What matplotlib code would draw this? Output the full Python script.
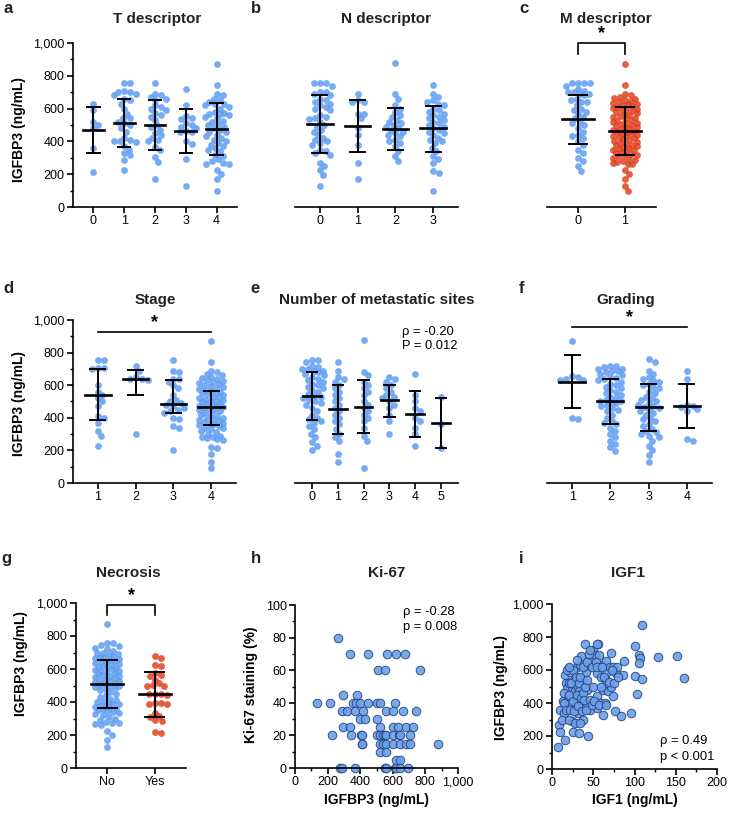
import numpy as np
import matplotlib
matplotlib.use("Agg")
import matplotlib.pyplot as plt
from matplotlib.ticker import MultipleLocator, FuncFormatter

plt.rcParams['font.family'] = ['Liberation Sans', 'DejaVu Sans']

W, H = 729, 813
BLUE = '#5f9ef3'
RED = '#e0421f'

# ---- data (IGFBP3, ng/mL) ----
t_labels = ['0', '1', '2', '3', '4']
t0 = [628, 590, 520, 480, 500, 357, 214]
t1 = [757, 757, 705, 700, 700, 690, 680, 660, 650, 630, 600, 570, 545, 540, 520, 510, 500, 480, 460,
      420, 410, 400, 400, 395, 370, 350, 330, 315, 285, 225]
t2 = [757, 690, 680, 673, 660, 653, 620, 612, 600, 592, 571, 560, 551, 531, 500, 490, 470, 449, 439,
      420, 408, 400, 367, 347, 306, 276, 170]
t3 = [720, 620, 555, 540, 535, 510, 500, 490, 480, 465, 460, 455, 400, 385, 290, 130]
t4 = [870, 745, 690, 680, 660, 650, 640, 630, 625, 620, 610, 600, 580, 575, 570, 570, 560, 550, 540,
      525, 520, 505, 500, 490, 480, 470, 460, 455, 440, 430, 420, 410, 400, 390, 380, 370, 360, 350,
      340, 320, 310, 290, 280, 270, 265, 260, 225, 200, 170, 95]
t_med = [470, 510, 502, 463, 478]
t_lo = [328, 365, 350, 328, 320]
t_hi = [610, 660, 655, 600, 632]

n_labels = ['0', '1', '2', '3']
n0 = [755, 755, 755, 740, 700, 700, 690, 680, 660, 650, 640, 630, 620, 610, 600, 590, 560, 550, 540,
      535, 520, 500, 490, 470, 460, 440, 420, 410, 400, 390, 380, 350, 340, 330, 320, 270, 250, 225,
      195, 130]
n1 = [690, 650, 640, 640, 570, 570, 540, 480, 440, 380, 270, 170]
n2 = [875, 690, 660, 620, 600, 580, 560, 550, 530, 520, 510, 500, 490, 480, 470, 460, 450, 440, 430,
      410, 400, 390, 370, 340, 310, 280]
n3 = [745, 690, 670, 650, 640, 630, 620, 600, 590, 580, 570, 560, 550, 540, 530, 520, 510, 500, 490,
      480, 470, 460, 450, 440, 420, 410, 400, 390, 360, 340, 310, 290, 270, 220, 210, 100]
n_med = [506, 494, 475, 480]
n_lo = [330, 335, 347, 335]
n_hi = [680, 655, 604, 618]

m_labels = ['0', '1']
m0 = [755, 755, 755, 755, 740, 720, 710, 700, 700, 690, 690, 680, 660, 650, 640, 640, 620, 600, 590,
      580, 570, 550, 540, 520, 510, 500, 480, 460, 440, 430, 420, 400, 380, 350, 330, 300, 280, 250,
      220]
m1 = [870, 745, 690, 680, 670, 665, 660, 650, 645, 640, 635, 630, 625, 620, 615, 610, 605, 600, 595,
      590, 585, 580, 575, 570, 560, 555, 550, 545, 540, 530, 525, 520, 515, 510, 505, 500, 495, 490,
      485, 480, 475, 470, 465, 460, 455, 450, 445, 440, 435, 430, 425, 420, 415, 410, 400, 395, 390,
      385, 380, 375, 370, 365, 360, 355, 350, 345, 340, 335, 330, 325, 320, 315, 310, 300, 290, 285,
      280, 275, 270, 265, 260, 225, 200, 170, 130, 100]
m_med = [537, 465]
m_lo = [384, 320]
m_hi = [684, 612]

s_labels = ['1', '2', '3', '4']
s1 = [757, 757, 705, 705, 700, 600, 560, 540, 520, 500, 470, 410, 400, 370, 320, 290, 225]
s2 = [720, 690, 650, 640, 640, 630, 300]
s3 = [757, 690, 680, 640, 640, 620, 600, 580, 540, 510, 500, 490, 480, 470, 460, 450, 440, 430, 400,
      390, 350, 340, 200]
s4 = [870, 745, 690, 680, 670, 660, 650, 645, 640, 630, 625, 620, 615, 610, 600, 595, 590, 580, 575,
      570, 565, 560, 555, 550, 545, 540, 530, 525, 520, 515, 510, 505, 500, 495, 490, 485, 480, 475,
      470, 465, 460, 455, 450, 445, 440, 430, 420, 415, 410, 400, 395, 390, 385, 380, 375, 370, 365,
      360, 355, 350, 340, 335, 330, 320, 310, 300, 290, 285, 280, 275, 270, 265, 220, 215, 175, 130, 95]
s_med = [537, 640, 484, 469]
s_lo = [384, 541, 428, 353]
s_hi = [700, 694, 633, 567]

ms_labels = ['0', '1', '2', '3', '4', '5']
ms0 = [755, 755, 740, 720, 710, 700, 700, 690, 685, 680, 670, 660, 650, 640, 630, 620, 610, 600, 590,
       580, 570, 560, 545, 535, 530, 520, 510, 500, 490, 480, 460, 440, 420, 400, 390, 380, 370, 350,
       330, 300, 280, 250, 230, 200]
ms1 = [745, 690, 650, 640, 620, 600, 580, 560, 540, 520, 500, 480, 460, 440, 420, 400, 380, 360, 330,
       300, 280, 260, 175, 130]
ms2 = [875, 680, 660, 620, 600, 580, 560, 540, 500, 480, 460, 440, 420, 400, 380, 340, 290, 260, 95]
ms3 = [650, 640, 620, 600, 580, 560, 540, 530, 520, 500, 480, 460, 420, 380, 300]
ms4 = [670, 540, 500, 460, 440, 400, 380, 340, 300, 230]
ms5 = [530, 365, 215]
ms_med = [531, 453, 469, 510, 424, 367]
ms_lo = [384, 300, 304, 406, 284, 214]
ms_hi = [678, 604, 630, 604, 565, 520]

g_labels = ['1', '2', '3', '4']
g1 = [873, 655, 650, 640, 630, 630, 400, 395]
g2 = [720, 715, 710, 700, 700, 690, 685, 680, 670, 660, 650, 645, 640, 630, 620, 610, 600, 590, 580,
      570, 560, 550, 540, 530, 520, 510, 505, 500, 495, 490, 480, 470, 460, 450, 440, 420, 400, 380,
      370, 360, 340, 320, 300, 280, 260, 240, 220, 195]
g3 = [760, 745, 690, 670, 650, 640, 630, 620, 610, 600, 590, 580, 560, 550, 530, 520, 510, 500, 490,
      480, 470, 465, 460, 450, 440, 430, 420, 400, 390, 380, 360, 350, 330, 320, 310, 300, 290, 280,
      260, 230, 200, 170, 130]
g4 = [690, 641, 480, 475, 465, 455, 440, 270, 260]
g_med = [622, 500, 465, 473]
g_lo = [463, 361, 316, 335]
g_hi = [784, 641, 608, 608]

nec_labels = ['No', 'Yes']
nec_no = [875, 760, 755, 745, 740, 730, 720, 710, 700, 695, 690, 685, 680, 675, 670, 665, 660, 655,
          650, 645, 640, 635, 630, 625, 620, 615, 610, 605, 600, 595, 590, 585, 580, 575, 570, 565,
          560, 555, 550, 545, 540, 535, 530, 525, 520, 515, 510, 505, 500, 495, 490, 485, 480, 470,
          460, 450, 440, 430, 420, 410, 405, 400, 395, 390, 385, 380, 375, 370, 365, 360, 355, 350,
          345, 340, 335, 330, 320, 310, 300, 290, 280, 275, 270, 265, 260, 225, 200, 170, 130]
nec_yes = [677, 667, 626, 620, 576, 566, 560, 535, 515, 501, 500, 498, 450, 450, 448, 445, 394, 394,
           390, 388, 333, 313, 310, 293, 283, 216, 212]
nec_med = [511, 448]
nec_lo = [366, 311]
nec_hi = [657, 580]

# Ki-67 vs IGFBP3
ki_igfbp3 = [265, 337, 445, 567, 622, 673, 510, 555, 765, 296, 382,
             133, 214, 357, 375, 400, 449, 500, 520, 612,
             286, 316, 367, 418, 561, 602, 663, 745,
             398, 429, 500,
             296, 337, 520, 602, 633, 684, 724,
             224, 343, 404, 414, 500, 520, 541, 551, 561, 602, 639, 643, 704,
             408, 414, 520, 541, 561, 602, 643, 684, 704, 878,
             520, 561, 622, 643,
             276, 286, 367, 551, 561, 612, 622, 643, 694]
ki67 = [80, 70, 70, 70, 70, 70, 60, 60, 60, 45, 45,
        40, 40, 40, 40, 40, 40, 40, 40, 40,
        35, 35, 35, 35, 35, 35, 35, 35,
        30, 30, 30,
        25, 25, 25, 25, 25, 25, 25,
        20, 20, 20, 20, 20, 20, 20, 20, 20, 20, 20, 20, 20,
        15, 15, 15, 15, 15, 15, 15, 15, 15, 15,
        10, 10, 5, 5,
        0, 0, 0, 0, 0, 0, 0, 0, 0]

# IGFBP3 vs IGF1
igf1 = [7, 9, 10, 10, 13, 15, 16, 16, 17, 18, 19, 21, 22, 23, 24, 24, 26, 26, 27, 28, 29, 30, 31, 32,
        32, 33, 33, 34, 35, 36, 37, 38, 40, 41, 42, 43, 44, 44, 46, 47, 50, 50, 52, 54, 54, 55, 56, 57,
        58, 59, 60, 62, 62, 64, 66, 66, 67, 68, 70, 71, 72, 74, 74, 76, 78, 79, 84, 87, 86, 96, 100,
        101, 103, 106, 107, 109, 109, 105, 128, 152, 160,
        12, 14, 15, 17, 18, 20, 20, 21, 22, 23, 25, 25, 27, 28, 29, 30, 31, 33, 34, 35, 36, 37, 38, 39,
        40, 41, 42, 43, 45, 46, 48, 49, 51, 53, 55, 57, 59, 61, 63, 65, 69, 73, 75, 80, 55, 46, 34, 20,
        30]
igfbp3_i = [132, 265, 355, 222, 410, 340, 175, 570, 520, 490, 440, 610, 590, 378, 290, 500, 225, 440,
            540, 470, 400, 620, 560, 500, 338, 220, 470, 632, 682, 410, 300, 540, 760, 590, 480, 400,
            200, 632, 358, 652, 723, 500, 692, 368, 440, 580, 755, 692, 400, 560, 632, 330, 480, 400,
            652, 540, 590, 470, 620, 702, 500, 445, 620, 350, 580, 620, 320, 652, 570, 338, 743, 561,
            455, 692, 672, 544, 870, 640, 678, 686, 549,
            300, 460, 400, 360, 600, 520, 300, 450, 360, 520, 410, 600, 350, 280, 560, 450, 380, 520,
            560, 430, 350, 620, 460, 420, 500, 360, 650, 540, 700, 420, 620, 390, 410, 650, 620, 390,
            500, 620, 560, 390, 530, 600, 520, 560, 760, 720, 280, 620, 660]

fig = plt.figure(figsize=(W / 100, H / 100), dpi=100)


def box(x0, y0, x1, y1):
    return [x0 / W, 1 - y1 / H, (x1 - x0) / W, (y1 - y0) / H]


def swarm(vals, sx, sy, diam=5.2, maxw=12.0):
    order = np.argsort(vals)[::-1]
    placed = []
    offs = np.zeros(len(vals))
    cands = [0.0]
    for k in range(1, int(maxw / 1.5) + 1):
        cands += [k * 1.5, -k * 1.5]
    for i in order:
        y = vals[i] * sy
        best, bestd = 0.0, -1.0
        for c in cands:
            d = min([np.hypot(c - px, y - py) for px, py in placed] + [99.0])
            if d >= diam:
                best = c
                break
            if d > bestd:
                best, bestd = c, d
        offs[i] = best
        placed.append((best, y))
    return offs / sx


def style(ax, left=True):
    for s in ['top', 'right']:
        ax.spines[s].set_visible(False)
    for s in ['left', 'bottom']:
        ax.spines[s].set_linewidth(1.2)
    ax.tick_params(direction='out', length=4, width=1.2, labelsize=9, pad=2)
    ax.tick_params(which='minor', direction='out', length=2.5, width=1.0)
    if not left:
        ax.spines['left'].set_visible(False)
        ax.set_yticks([])
    else:
        ax.yaxis.set_major_locator(MultipleLocator(200))
        ax.yaxis.set_minor_locator(MultipleLocator(100))
        ax.yaxis.set_major_formatter(FuncFormatter(lambda v, p: f'{int(v):,}'))


def dotplot(rect, groups, labels, med, lo, hi, colors, xstart, left=True):
    ax = fig.add_axes(box(*rect))
    n = len(groups)
    xl = (xstart - 0.66, xstart + n - 1 + 0.66)
    ax.set_xlim(xl)
    ax.set_ylim(0, 1000)
    sx = (rect[2] - rect[0]) / (xl[1] - xl[0])
    sy = (rect[3] - rect[1]) / 1000
    for i, g in enumerate(groups):
        pos = xstart + i
        v = np.array(g, float)
        ax.scatter(pos + swarm(v, sx, sy), v, s=24, color=colors[i], alpha=0.85, lw=0, zorder=2,
                   clip_on=False)
        ax.plot([pos - 0.34, pos + 0.34], [med[i], med[i]], color='k', lw=1.9, zorder=3)
        ax.plot([pos, pos], [lo[i], hi[i]], color='k', lw=1.4, zorder=3)
        for e in (lo[i], hi[i]):
            ax.plot([pos - 0.2, pos + 0.2], [e, e], color='k', lw=1.4, zorder=3)
    ax.set_xticks(range(xstart, xstart + n))
    ax.set_xticklabels(labels)
    style(ax, left)
    return ax


def ftext(x, y, s, **kw):
    fig.text(x / W, 1 - y / H, s, **kw)


# row 1
ax_a = dotplot((73, 43, 237, 207), [t0, t1, t2, t3, t4], t_labels, t_med, t_lo, t_hi, [BLUE] * 5, 0)
ax_b = dotplot((295, 43, 458, 207), [n0, n1, n2, n3], n_labels, n_med, n_lo, n_hi, [BLUE] * 4, 0,
               left=False)
ax_c = dotplot((547, 43, 656, 207), [m0, m1], m_labels, m_med, m_lo, m_hi, [BLUE, RED], 0, left=False)
ax_c.plot([0, 0, 1, 1], [935, 1000, 1000, 935], color='k', lw=1.2, clip_on=False)
ax_c.text(0.5, 1005, '*', ha='center', va='bottom', fontsize=13, fontweight='bold')

# row 2
ax_d = dotplot((73, 320, 236, 483), [s1, s2, s3, s4], s_labels, s_med, s_lo, s_hi, [BLUE] * 4, 1)
ax_d.plot([1, 4], [924, 924], color='k', lw=1.2, clip_on=False)
ax_d.text(2.5, 930, '*', ha='center', va='bottom', fontsize=13, fontweight='bold')
ax_e = dotplot((295, 320, 458, 483), [ms0, ms1, ms2, ms3, ms4, ms5], ms_labels, ms_med, ms_lo, ms_hi,
               [BLUE] * 6, 0, left=False)
ax_f = dotplot((547, 320, 712, 483), [g1, g2, g3, g4], g_labels, g_med, g_lo, g_hi, [BLUE] * 4, 1,
               left=False)
ax_f.plot([1, 4], [955, 955], color='k', lw=1.2, clip_on=False)
ax_f.text(2.5, 962, '*', ha='center', va='bottom', fontsize=13, fontweight='bold')

# row 3
ax_g = dotplot((76, 603, 186, 768), [nec_no, nec_yes], nec_labels, nec_med, nec_lo, nec_hi,
               [BLUE, RED], 0)
ax_g.plot([0, 0, 1, 1], [929, 990, 990, 929], color='k', lw=1.2, clip_on=False)
ax_g.text(0.5, 995, '*', ha='center', va='bottom', fontsize=13, fontweight='bold')

ax_h = fig.add_axes(box(295, 605, 458, 768))
ax_h.scatter(ki_igfbp3, ki67, s=38, facecolor='#6b9fe9', edgecolor='#24457f', lw=0.7, alpha=0.9,
             zorder=2, clip_on=False)
ax_h.set_xlim(0, 1000)
ax_h.set_ylim(0, 100)
style(ax_h)
ax_h.xaxis.set_major_locator(MultipleLocator(200))
ax_h.xaxis.set_minor_locator(MultipleLocator(100))
ax_h.xaxis.set_major_formatter(FuncFormatter(lambda v, p: f'{int(v):,}'))
ax_h.yaxis.set_major_locator(MultipleLocator(20))
ax_h.yaxis.set_minor_locator(MultipleLocator(10))
ax_h.yaxis.set_major_formatter(FuncFormatter(lambda v, p: f'{int(v)}'))

ax_i = fig.add_axes(box(552, 604, 717, 769))
ax_i.scatter(igf1, igfbp3_i, s=38, facecolor='#6b9fe9', edgecolor='#24457f', lw=0.7, alpha=0.9,
             zorder=2, clip_on=False)
ax_i.set_xlim(0, 200)
ax_i.set_ylim(0, 1000)
style(ax_i)
ax_i.xaxis.set_major_locator(MultipleLocator(50))
ax_i.xaxis.set_minor_locator(MultipleLocator(25))

# titles
tkw = dict(ha='center', va='baseline', fontsize=11, fontweight='bold', color='#222222')
ftext(157, 22.5, 'T descriptor', **tkw)
ftext(386, 22.5, 'N descriptor', **tkw)
ftext(606, 22.5, 'M descriptor', **tkw)
ftext(155, 304, 'Stage', **tkw)
ftext(377, 304, 'Number of metastatic sites', **tkw)
ftext(626, 304, 'Grading', **tkw)
ftext(128, 577, 'Necrosis', **tkw)
ftext(387, 577, 'Ki-67', **tkw)
ftext(628, 577, 'IGF1', **tkw)

# panel letters
lkw = dict(ha='left', va='baseline', fontsize=12, fontweight='bold', color='#222222')
for x, y, s in [(3, 13, 'a'), (251, 13, 'b'), (519, 13, 'c'), (3, 293, 'd'), (250, 293, 'e'),
                (519, 293, 'f'), (1, 563, 'g'), (251, 563, 'h'), (519, 563, 'i')]:
    ftext(x, y, s, **lkw)

# axis labels
ykw = dict(ha='center', va='center', rotation=90, fontsize=10, fontweight='bold')
ftext(19.5, 129, 'IGFBP3 (ng/mL)', **ykw)
ftext(19.5, 404, 'IGFBP3 (ng/mL)', **ykw)
ftext(21, 663, 'IGFBP3 (ng/mL)', **ykw)
ftext(251, 685, 'Ki-67 staining (%)', **ykw)
ftext(501, 687, 'IGFBP3 (ng/mL)', **ykw)
xkw = dict(ha='center', va='center', fontsize=10, fontweight='bold')
ftext(377, 800, 'IGFBP3 (ng/mL)', **xkw)
ftext(635, 800, 'IGF1 (ng/mL)', **xkw)

# statistics
akw = dict(ha='left', va='baseline', fontsize=9.3)
ftext(402, 335, 'ρ = -0.20', **akw)
ftext(402, 349, 'P = 0.012', **akw)
ftext(403, 615, 'ρ = -0.28', **akw)
ftext(403, 630, 'p = 0.008', **akw)
ftext(660, 744, 'ρ = 0.49', **akw)
ftext(660, 760, 'p < 0.001', **akw)

fig.savefig('out.png', dpi=100)
